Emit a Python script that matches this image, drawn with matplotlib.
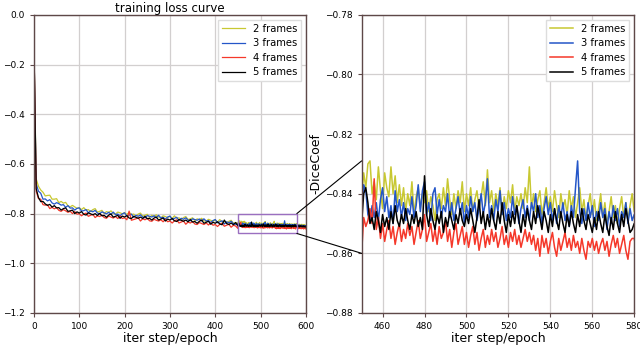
import numpy as np
import matplotlib
matplotlib.use("Agg")
import matplotlib.pyplot as plt
from matplotlib.patches import Rectangle, ConnectionPatch

labels = ["2 frames", "3 frames", "4 frames", "5 frames"]
colors = ["#c8c832", "#2456c8", "#f5382a", "#000000"]

# coarse part: steps 0..445 every 5
x_coarse = np.arange(0, 450, 5)
# fine part: steps 450..600 every 1
x_fine = np.arange(450, 601, 1)

y2_coarse = [-0.120, -0.660, -0.690, -0.705, -0.714, -0.729, -0.727, -0.726, -0.742, -0.742,
             -0.740, -0.756, -0.751, -0.758, -0.755, -0.768, -0.773, -0.767, -0.773, -0.779,
             -0.776, -0.784, -0.776, -0.786, -0.784, -0.792, -0.784, -0.780, -0.794, -0.791,
             -0.787, -0.800, -0.792, -0.795, -0.789, -0.799, -0.802, -0.794, -0.797, -0.801,
             -0.796, -0.804, -0.795, -0.804, -0.802, -0.810, -0.802, -0.798, -0.810, -0.807,
             -0.803, -0.816, -0.807, -0.811, -0.805, -0.814, -0.817, -0.809, -0.812, -0.816,
             -0.811, -0.819, -0.809, -0.819, -0.817, -0.824, -0.816, -0.812, -0.824, -0.821,
             -0.817, -0.830, -0.821, -0.825, -0.819, -0.829, -0.831, -0.823, -0.827, -0.831,
             -0.826, -0.834, -0.824, -0.834, -0.832, -0.839, -0.831, -0.827, -0.839, -0.836]
y3_coarse = [-0.115, -0.680, -0.710, -0.718, -0.742, -0.741, -0.749, -0.744, -0.757, -0.762,
             -0.756, -0.760, -0.766, -0.764, -0.775, -0.768, -0.778, -0.777, -0.786, -0.779,
             -0.777, -0.790, -0.788, -0.784, -0.797, -0.789, -0.793, -0.787, -0.798, -0.801,
             -0.793, -0.797, -0.801, -0.795, -0.803, -0.794, -0.804, -0.802, -0.809, -0.801,
             -0.797, -0.810, -0.807, -0.802, -0.815, -0.807, -0.811, -0.805, -0.814, -0.817,
             -0.808, -0.811, -0.814, -0.809, -0.817, -0.807, -0.817, -0.815, -0.822, -0.814,
             -0.810, -0.823, -0.819, -0.815, -0.828, -0.819, -0.823, -0.817, -0.826, -0.829,
             -0.821, -0.824, -0.827, -0.822, -0.830, -0.821, -0.830, -0.828, -0.836, -0.828,
             -0.824, -0.837, -0.833, -0.829, -0.842, -0.833, -0.837, -0.831, -0.840, -0.843]
y4_coarse = [-0.105, -0.710, -0.740, -0.742, -0.764, -0.766, -0.765, -0.780, -0.775, -0.781,
             -0.776, -0.787, -0.791, -0.784, -0.789, -0.795, -0.791, -0.800, -0.792, -0.802,
             -0.801, -0.809, -0.802, -0.798, -0.811, -0.807, -0.803, -0.816, -0.809, -0.812,
             -0.806, -0.816, -0.819, -0.810, -0.814, -0.818, -0.812, -0.820, -0.810, -0.820,
             -0.817, -0.825, -0.790, -0.827, -0.824, -0.821, -0.817, -0.830, -0.821, -0.825,
             -0.819, -0.829, -0.831, -0.823, -0.827, -0.830, -0.825, -0.833, -0.823, -0.833,
             -0.830, -0.838, -0.829, -0.825, -0.838, -0.834, -0.830, -0.843, -0.834, -0.838,
             -0.832, -0.842, -0.844, -0.836, -0.840, -0.844, -0.838, -0.846, -0.837, -0.847,
             -0.844, -0.852, -0.843, -0.839, -0.851, -0.847, -0.843, -0.855, -0.847, -0.850]
y5_coarse = [-0.110, -0.700, -0.735, -0.752, -0.751, -0.761, -0.767, -0.763, -0.774, -0.768,
             -0.777, -0.776, -0.786, -0.780, -0.777, -0.791, -0.789, -0.786, -0.800, -0.793,
             -0.798, -0.792, -0.803, -0.806, -0.797, -0.801, -0.805, -0.800, -0.808, -0.799,
             -0.809, -0.807, -0.815, -0.806, -0.802, -0.814, -0.811, -0.807, -0.819, -0.810,
             -0.814, -0.808, -0.818, -0.820, -0.811, -0.815, -0.819, -0.814, -0.820, -0.811,
             -0.821, -0.819, -0.826, -0.818, -0.814, -0.826, -0.822, -0.818, -0.830, -0.822,
             -0.826, -0.820, -0.829, -0.832, -0.824, -0.827, -0.831, -0.826, -0.833, -0.824,
             -0.834, -0.832, -0.839, -0.831, -0.826, -0.839, -0.835, -0.831, -0.843, -0.835,
             -0.839, -0.833, -0.842, -0.845, -0.826, -0.840, -0.844, -0.838, -0.845, -0.836]

y2_fine = [-0.841, -0.833, -0.838, -0.830, -0.829, -0.840, -0.836, -0.842, -0.831, -0.839,
           -0.845, -0.833, -0.838, -0.841, -0.831, -0.840, -0.834, -0.843, -0.837, -0.844,
           -0.838, -0.846, -0.840, -0.844, -0.836, -0.847, -0.841, -0.838, -0.845, -0.840,
           -0.843, -0.839, -0.846, -0.841, -0.844, -0.849, -0.842, -0.840, -0.845, -0.838,
           -0.844, -0.835, -0.842, -0.847, -0.840, -0.845, -0.839, -0.843, -0.836, -0.846,
           -0.840, -0.844, -0.838, -0.846, -0.842, -0.839, -0.845, -0.841, -0.836, -0.844,
           -0.832, -0.843, -0.839, -0.846, -0.840, -0.844, -0.838, -0.847, -0.841, -0.845,
           -0.839, -0.843, -0.837, -0.846, -0.841, -0.844, -0.840, -0.845, -0.838, -0.843,
           -0.831, -0.845, -0.840, -0.846, -0.842, -0.839, -0.847, -0.843, -0.838, -0.845,
           -0.841, -0.846, -0.839, -0.844, -0.848, -0.840, -0.845, -0.842, -0.847, -0.839,
           -0.845, -0.841, -0.848, -0.843, -0.838, -0.846, -0.842, -0.849, -0.844, -0.840,
           -0.847, -0.842, -0.849, -0.845, -0.840, -0.848, -0.843, -0.850, -0.846, -0.841,
           -0.848, -0.844, -0.850, -0.845, -0.841, -0.848, -0.843, -0.849, -0.844, -0.840,
           -0.846, -0.842, -0.848, -0.844, -0.849, -0.845, -0.843, -0.848, -0.844, -0.850,
           -0.846, -0.843, -0.849, -0.845, -0.851, -0.847, -0.844, -0.850, -0.846, -0.852, -0.848]
y3_fine = [-0.845, -0.837, -0.839, -0.847, -0.849, -0.844, -0.848, -0.843, -0.849, -0.842,
           -0.838, -0.846, -0.841, -0.848, -0.844, -0.850, -0.839, -0.846, -0.842, -0.848,
           -0.843, -0.849, -0.845, -0.847, -0.841, -0.848, -0.844, -0.837, -0.846, -0.839,
           -0.836, -0.847, -0.843, -0.849, -0.840, -0.838, -0.847, -0.842, -0.848, -0.844,
           -0.846, -0.840, -0.848, -0.843, -0.849, -0.845, -0.841, -0.847, -0.843, -0.850,
           -0.844, -0.848, -0.841, -0.846, -0.843, -0.849, -0.845, -0.840, -0.847, -0.843,
           -0.835, -0.848, -0.844, -0.849, -0.842, -0.846, -0.839, -0.847, -0.843, -0.849,
           -0.845, -0.848, -0.841, -0.847, -0.844, -0.850, -0.845, -0.842, -0.848, -0.844,
           -0.849, -0.843, -0.846, -0.840, -0.848, -0.844, -0.850, -0.845, -0.841, -0.847,
           -0.843, -0.849, -0.845, -0.850, -0.844, -0.848, -0.843, -0.849, -0.846, -0.851,
           -0.844, -0.848, -0.838, -0.829, -0.846, -0.850, -0.845, -0.849, -0.843, -0.848,
           -0.844, -0.851, -0.846, -0.849, -0.843, -0.848, -0.845, -0.852, -0.846, -0.850,
           -0.844, -0.849, -0.845, -0.851, -0.846, -0.848, -0.843, -0.850, -0.845, -0.849,
           -0.847, -0.850, -0.845, -0.851, -0.847, -0.849, -0.846, -0.852, -0.848, -0.850,
           -0.846, -0.851, -0.848, -0.852, -0.847, -0.850, -0.849, -0.853, -0.848, -0.851, -0.850]
y4_fine = [-0.860, -0.848, -0.851, -0.849, -0.845, -0.850, -0.835, -0.852, -0.848, -0.855,
           -0.850, -0.856, -0.852, -0.849, -0.855, -0.851, -0.857, -0.853, -0.850, -0.856,
           -0.852, -0.855, -0.850, -0.854, -0.851, -0.857, -0.853, -0.849, -0.855, -0.852,
           -0.847, -0.856, -0.853, -0.850, -0.856, -0.852, -0.857, -0.851, -0.855, -0.853,
           -0.849, -0.856, -0.852, -0.858, -0.853, -0.850, -0.857, -0.854, -0.851, -0.857,
           -0.853, -0.858, -0.854, -0.851, -0.857, -0.853, -0.859, -0.855, -0.852, -0.858,
           -0.854, -0.857, -0.852, -0.856, -0.853, -0.858, -0.855, -0.851, -0.857, -0.854,
           -0.858, -0.853, -0.856, -0.852, -0.857, -0.854, -0.858, -0.855, -0.852, -0.856,
           -0.853, -0.857, -0.854, -0.859, -0.855, -0.861, -0.854, -0.858, -0.855, -0.860,
           -0.856, -0.853, -0.858, -0.861, -0.855, -0.859, -0.856, -0.853, -0.858, -0.855,
           -0.859, -0.854, -0.858, -0.856, -0.860, -0.855, -0.859, -0.862, -0.856, -0.858,
           -0.855, -0.859, -0.856, -0.860, -0.857, -0.855, -0.859, -0.856, -0.861, -0.857,
           -0.854, -0.858, -0.855, -0.860, -0.857, -0.854, -0.859, -0.862, -0.856, -0.855,
           -0.855, -0.859, -0.856, -0.861, -0.857, -0.860, -0.856, -0.859, -0.857, -0.861,
           -0.858, -0.861, -0.857, -0.860, -0.858, -0.862, -0.857, -0.860, -0.858, -0.862, -0.859]
y5_fine = [-0.850, -0.840, -0.838, -0.843, -0.850, -0.848, -0.852, -0.846, -0.849, -0.853,
           -0.847, -0.851, -0.848, -0.852, -0.846, -0.850, -0.844, -0.849, -0.851, -0.847,
           -0.850, -0.845, -0.849, -0.852, -0.847, -0.850, -0.846, -0.851, -0.848, -0.852,
           -0.834, -0.847, -0.851, -0.845, -0.849, -0.852, -0.847, -0.850, -0.846, -0.853,
           -0.848, -0.851, -0.846, -0.849, -0.852, -0.847, -0.850, -0.845, -0.849, -0.851,
           -0.847, -0.850, -0.845, -0.849, -0.853, -0.848, -0.842, -0.850, -0.846, -0.852,
           -0.847, -0.851, -0.845, -0.849, -0.852, -0.846, -0.850, -0.843, -0.849, -0.853,
           -0.847, -0.851, -0.846, -0.850, -0.844, -0.849, -0.853, -0.847, -0.851, -0.845,
           -0.849, -0.852, -0.846, -0.850, -0.844, -0.848, -0.852, -0.846, -0.849, -0.853,
           -0.847, -0.851, -0.845, -0.849, -0.852, -0.846, -0.850, -0.853, -0.847, -0.851,
           -0.846, -0.850, -0.853, -0.847, -0.851, -0.845, -0.849, -0.852, -0.847, -0.850,
           -0.853, -0.848, -0.852, -0.846, -0.850, -0.853, -0.847, -0.851, -0.854, -0.848,
           -0.852, -0.846, -0.850, -0.853, -0.847, -0.851, -0.845, -0.849, -0.853, -0.852,
           -0.850, -0.853, -0.848, -0.852, -0.849, -0.854, -0.850, -0.853, -0.849, -0.852,
           -0.850, -0.854, -0.851, -0.853, -0.849, -0.854, -0.851, -0.853, -0.850, -0.855, -0.852]

coarse = [y2_coarse, y3_coarse, y4_coarse, y5_coarse]
fine = [y2_fine, y3_fine, y4_fine, y5_fine]

left_xticks = [0, 100, 200, 300, 400, 500, 600]
left_yticks = [0.0, -0.2, -0.4, -0.6, -0.8, -1.0, -1.2]
right_xticks = [460, 480, 500, 520, 540, 560, 580]
right_yticks = [-0.78, -0.80, -0.82, -0.84, -0.86, -0.88]

fig = plt.figure(figsize=(6.4, 3.54), dpi=100)
ax1 = fig.add_axes([0.053, 0.116, 0.425, 0.842])
ax2 = fig.add_axes([0.565, 0.116, 0.426, 0.842])

spine_col = "#5e4848"
grid_col = "#d2cfcf"

for ax in (ax1, ax2):
    ax.grid(True, color=grid_col, linewidth=0.9)
    ax.set_axisbelow(True)
    for s in ax.spines.values():
        s.set_color(spine_col)
        s.set_linewidth(1.0)
    ax.tick_params(labelsize=6.5, length=3, color=spine_col)
    ax.set_xlabel("iter step/epoch", fontsize=9, labelpad=1)
    ax.set_ylabel("-DiceCoef", fontsize=9, labelpad=2)

x_all = np.concatenate([x_coarse, x_fine])
for yc, yf, lab, c in zip(coarse, fine, labels, colors):
    ax1.plot(x_all, np.concatenate([yc, yf]), color=c, lw=0.9, label=lab)
    ax2.plot(x_fine, yf, color=c, lw=1.1, label=lab)

ax1.set_xlim(0, 600)
ax1.set_ylim(-1.2, 0.0)
ax1.set_xticks(left_xticks)
ax1.set_yticks(left_yticks)
ax1.set_title("training loss curve", fontsize=8.5, pad=2)

ax2.set_xlim(450, 580)
ax2.set_ylim(-0.88, -0.78)
ax2.set_xticks(right_xticks)
ax2.set_yticks(right_yticks)

for ax in (ax1, ax2):
    ax.legend(loc="upper right", fontsize=7.2, handlelength=2.3, borderpad=0.4,
              labelspacing=0.45, handletextpad=0.8, framealpha=1.0,
              edgecolor="#dddddd", fancybox=False)

rect = Rectangle((450, -0.88), 130, 0.08, fill=False, edgecolor="#9a6fc0", lw=1.0, zorder=5)
ax1.add_patch(rect)
for (xa, ya), (xb, yb) in [((580, -0.80), (450, -0.829)), ((580, -0.88), (450, -0.86))]:
    cp = ConnectionPatch(xyA=(xa, ya), coordsA=ax1.transData,
                         xyB=(xb, yb), coordsB=ax2.transData,
                         color="black", lw=0.8)
    fig.add_artist(cp)

fig.savefig("out.png", dpi=100)
